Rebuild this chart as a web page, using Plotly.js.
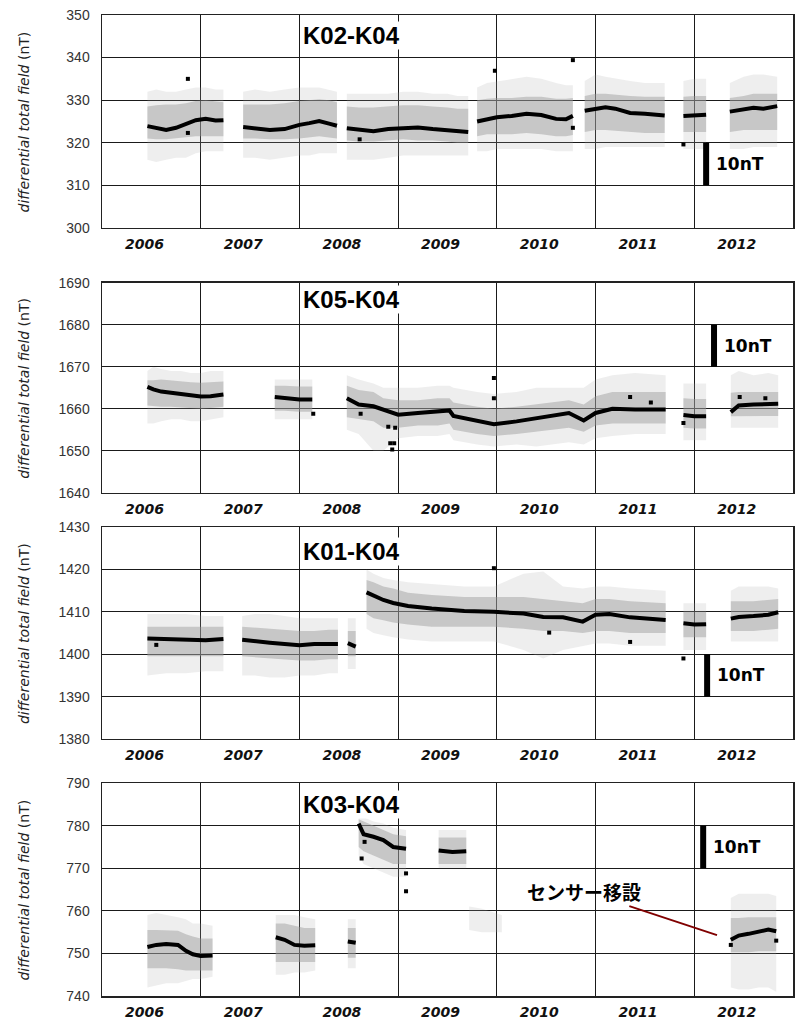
<!DOCTYPE html>
<html>
<head>
<meta charset="utf-8">
<script src="https://cdn.plot.ly/plotly-3.0.1.min.js"></script>
<style>html,body{margin:0;padding:0;background:#fff;}#chart{width:802px;height:1019px;}</style>
</head>
<body>
<div id="chart"></div>
<script>
// ---------- DATA ----------
const yearLabels = ['2006', '2007', '2008', '2009', '2010', '2011', '2012'];
const yearBoundaries = [2007, 2008, 2009, 2010, 2011, 2012];
const xSpan = [2006, 2013];

const panelNames = ['K02-K04', 'K05-K04', 'K01-K04', 'K03-K04'];
const k02Range = [300, 350];
const k05Range = [1640, 1690];
const k01Range = [1380, 1430];
const k03Range = [740, 790];

// scale bar: bottom value of the 10 nT bar and its x position (year)
const scaleBarBase = [310, 1670, 1390, 770];
const scaleBarYear = [2012.12, 2012.20, 2012.13, 2012.09];
const scaleBarLength = 10;
const scaleBarText = '10nT';

// ---- K02-K04 ----
const k02X = [2006.46, 2006.55, 2006.65, 2006.75, 2006.85, 2006.95, 2007.05, 2007.15, 2007.23, null,
  2007.43, 2007.55, 2007.7, 2007.85, 2008.0, 2008.1, 2008.2, 2008.3, 2008.38, null,
  2008.48, 2008.6, 2008.75, 2008.9, 2009.05, 2009.2, 2009.35, 2009.5, 2009.6, 2009.71, null,
  2009.80, 2009.9, 2010.0, 2010.15, 2010.3, 2010.45, 2010.6, 2010.7, 2010.77, null,
  2010.89, 2011.0, 2011.1, 2011.2, 2011.35, 2011.5, 2011.6, 2011.7, null,
  2011.89, 2012.0, 2012.12, null,
  2012.36, 2012.5, 2012.6, 2012.7, 2012.84];
const k02Mean = [323.9, 323.4, 323.0, 323.5, 324.5, 325.3, 325.6, 325.2, 325.3, null,
  323.7, 323.4, 323.0, 323.2, 324.2, 324.6, 325.1, 324.5, 324.0, null,
  323.4, 323.0, 322.7, 323.2, 323.5, 323.6, 323.2, 323.0, 322.8, 322.5, null,
  325.0, 325.6, 326.0, 326.3, 326.8, 326.5, 325.6, 325.5, 326.3, null,
  327.5, 328.0, 328.3, 328.0, 327.0, 326.8, 326.5, 326.4, null,
  326.3, 326.5, 326.6, null,
  327.3, 327.8, 328.2, 328.0, 328.6];
const k02CoreLo = [321.0, 320.8, 320.8, 321.0, 321.2, 321.5, 321.5, 321.5, 321.5, null,
  321.0, 321.0, 320.8, 320.8, 321.0, 321.2, 321.5, 321.2, 321.0, null,
  320.5, 320.3, 320.3, 320.5, 320.8, 320.5, 320.5, 320.3, 320.0, 320.0, null,
  321.5, 322.0, 322.0, 322.0, 322.3, 322.0, 321.5, 321.5, 321.8, null,
  322.5, 323.0, 323.0, 322.8, 322.5, 322.3, 322.3, 322.3, null,
  322.5, 322.5, 322.5, null,
  322.5, 323.0, 323.0, 323.0, 323.0];
const k02CoreHi = [328.5, 328.8, 329.0, 329.0, 329.3, 329.8, 330.0, 329.8, 329.5, null,
  329.0, 329.0, 329.0, 329.3, 329.8, 330.0, 330.2, 330.0, 329.5, null,
  328.5, 328.3, 328.3, 328.5, 328.8, 328.8, 328.5, 328.3, 328.0, 328.0, null,
  330.0, 330.3, 330.5, 330.5, 330.8, 330.8, 330.3, 330.3, 330.5, null,
  331.0, 331.5, 331.5, 331.3, 331.0, 330.8, 330.8, 330.8, null,
  330.8, 331.0, 331.0, null,
  330.5, 331.0, 331.5, 331.5, 331.5];
const k02OuterLo = [316.0, 315.5, 316.0, 316.5, 316.5, 317.5, 318.0, 318.0, 318.0, null,
  316.5, 316.5, 316.0, 316.5, 317.0, 317.0, 317.5, 317.5, 317.5, null,
  316.0, 316.0, 316.0, 316.5, 317.0, 317.0, 317.0, 317.0, 317.0, 317.0, null,
  318.0, 318.0, 318.5, 318.5, 318.5, 318.5, 318.0, 318.0, 318.0, null,
  318.5, 318.5, 319.0, 319.0, 319.0, 319.0, 319.0, 319.0, null,
  318.5, 318.5, 318.5, null,
  318.5, 318.5, 319.0, 319.0, 319.0];
const k02OuterHi = [332.0, 332.5, 332.0, 332.0, 332.5, 333.0, 333.0, 332.5, 332.5, null,
  332.0, 332.5, 332.0, 332.5, 333.0, 333.0, 333.0, 332.5, 332.0, null,
  331.5, 331.5, 331.5, 331.5, 332.0, 332.0, 331.5, 331.5, 331.0, 331.0, null,
  333.0, 334.0, 334.5, 335.0, 335.5, 335.0, 334.0, 333.5, 333.5, null,
  334.5, 336.0, 335.5, 335.0, 334.5, 334.0, 334.0, 334.0, null,
  334.5, 335.0, 335.0, null,
  334.0, 335.5, 336.0, 336.0, 335.5];
const k02OutX = [2006.87, 2006.87, 2008.61, 2009.98, 2010.77, 2010.77, 2011.89];
const k02OutY = [335.0, 322.3, 320.8, 336.9, 339.4, 323.5, 319.6];

// ---- K05-K04 ----
const k05X = [2006.46, 2006.52, 2006.6, 2006.7, 2006.8, 2006.9, 2007.0, 2007.1, 2007.23, null,
  2007.75, 2007.85, 2008.0, 2008.13, null,
  2008.48, 2008.6, 2008.75, 2008.85, 2009.0, 2009.2, 2009.4, 2009.52, 2009.56, 2009.8, 2009.97, 2010.2, 2010.4, 2010.55, 2010.73, 2010.88, 2011.0, 2011.17, 2011.4, 2011.71, null,
  2011.89, 2012.0, 2012.12, null,
  2012.37, 2012.45, 2012.6, 2012.75, 2012.85];
const k05Mean = [1665.2, 1664.6, 1664.1, 1663.8, 1663.4, 1663.0, 1662.9, 1663.0, 1663.4, null,
  1662.8, 1662.6, 1662.2, 1662.2, null,
  1662.5, 1661.0, 1660.6, 1659.8, 1658.6, 1659.0, 1659.4, 1659.6, 1658.3, 1657.0, 1656.3, 1657.0, 1657.7, 1658.2, 1659.0, 1657.2, 1659.0, 1660.0, 1659.8, 1659.8, null,
  1658.5, 1658.2, 1658.2, null,
  1659.2, 1660.8, 1661.0, 1661.0, 1661.2];
const k05CoreLo = [1660.8, 1660.6, 1660.5, 1660.5, 1660.3, 1660.2, 1660.0, 1660.2, 1660.5, null,
  1659.5, 1659.5, 1659.3, 1659.3, null,
  1658.0, 1657.5, 1657.0, 1655.5, 1655.5, 1656.0, 1656.0, 1656.5, 1655.0, 1654.0, 1653.5, 1654.0, 1654.5, 1655.0, 1655.5, 1654.5, 1656.0, 1656.5, 1656.5, 1656.5, null,
  1655.5, 1655.3, 1655.3, null,
  1658.2, 1658.2, 1658.3, 1658.3, 1658.3];
const k05CoreHi = [1666.8, 1666.8, 1667.0, 1666.8, 1666.5, 1666.3, 1666.2, 1666.3, 1666.5, null,
  1665.5, 1665.5, 1665.3, 1665.3, null,
  1665.5, 1664.5, 1664.0, 1662.5, 1662.0, 1662.0, 1662.5, 1662.5, 1661.5, 1660.5, 1660.0, 1660.5, 1661.0, 1661.5, 1662.0, 1661.0, 1663.0, 1664.0, 1664.0, 1664.0, null,
  1662.5, 1662.3, 1662.3, null,
  1663.8, 1664.0, 1664.0, 1664.0, 1664.0];
const k05OuterLo = [1656.5, 1656.5, 1657.0, 1657.5, 1657.5, 1657.0, 1657.0, 1657.5, 1658.0, null,
  1657.5, 1657.5, 1657.5, 1657.5, null,
  1655.0, 1654.0, 1650.0, 1650.0, 1653.0, 1653.5, 1653.5, 1654.0, 1652.5, 1651.5, 1651.0, 1651.5, 1651.0, 1651.5, 1652.0, 1651.5, 1653.0, 1653.5, 1654.0, 1654.0, null,
  1652.5, 1652.5, 1652.5, null,
  1655.5, 1655.5, 1655.5, 1655.5, 1655.5];
const k05OuterHi = [1669.0, 1670.0, 1669.5, 1669.0, 1669.0, 1668.5, 1668.5, 1669.0, 1669.0, null,
  1667.0, 1667.0, 1667.0, 1667.0, null,
  1668.0, 1667.0, 1666.0, 1665.0, 1665.0, 1665.0, 1665.5, 1665.5, 1665.0, 1664.0, 1663.5, 1664.0, 1665.0, 1665.0, 1665.0, 1665.0, 1667.0, 1668.0, 1668.5, 1668.0, null,
  1666.0, 1666.0, 1666.0, null,
  1668.0, 1669.0, 1668.0, 1668.5, 1668.0];
const k05OutX = [2008.14, 2008.62, 2008.90, 2008.92, 2008.94, 2008.96, 2008.97, 2009.97, 2009.97, 2011.35, 2011.56, 2011.89, 2012.46, 2012.72];
const k05OutY = [1658.8, 1658.8, 1655.7, 1651.8, 1650.3, 1651.8, 1655.5, 1667.3, 1662.5, 1662.8, 1661.5, 1656.6, 1662.8, 1662.5];

// ---- K01-K04 ----
const k01X = [2006.46, 2006.65, 2006.85, 2007.05, 2007.23, null,
  2007.42, 2007.55, 2007.7, 2007.85, 2008.0, 2008.15, 2008.3, 2008.39, null,
  2008.49, 2008.57, null,
  2008.68, 2008.75, 2008.85, 2008.95, 2009.1, 2009.34, 2009.67, 2009.97, 2010.27, 2010.47, 2010.67, 2010.87, 2011.0, 2011.14, 2011.35, 2011.71, null,
  2011.89, 2012.0, 2012.12, null,
  2012.37, 2012.45, 2012.6, 2012.75, 2012.85];
const k01Mean = [1403.7, 1403.5, 1403.3, 1403.3, 1403.6, null,
  1403.4, 1403.0, 1402.7, 1402.4, 1402.1, 1402.4, 1402.5, 1402.4, null,
  1402.6, 1401.8, null,
  1414.6, 1413.8, 1412.8, 1412.1, 1411.4, 1410.8, 1410.2, 1410.0, 1409.6, 1408.8, 1408.7, 1407.7, 1409.3, 1409.5, 1408.7, 1408.1, null,
  1407.3, 1407.0, 1407.1, null,
  1408.4, 1408.8, 1409.0, 1409.3, 1409.9];
const k01CoreLo = [1399.5, 1399.5, 1399.5, 1399.5, 1399.5, null,
  1399.5, 1399.3, 1399.0, 1398.8, 1398.5, 1398.5, 1398.8, 1398.8, null,
  1399.5, 1399.5, null,
  1409.5, 1408.5, 1408.0, 1407.5, 1407.0, 1406.5, 1406.5, 1406.5, 1406.0, 1405.5, 1405.5, 1405.0, 1405.5, 1405.5, 1405.0, 1405.0, null,
  1404.0, 1404.0, 1404.0, null,
  1405.5, 1405.5, 1405.5, 1405.8, 1406.0];
const k01CoreHi = [1406.5, 1406.5, 1406.5, 1406.5, 1406.5, null,
  1406.5, 1406.3, 1406.0, 1405.8, 1405.5, 1405.5, 1405.8, 1405.8, null,
  1405.5, 1405.5, null,
  1417.5, 1417.0, 1416.0, 1415.5, 1414.5, 1414.0, 1413.5, 1413.5, 1413.5, 1413.0, 1412.5, 1412.0, 1413.0, 1413.0, 1412.5, 1412.0, null,
  1410.0, 1410.0, 1410.0, null,
  1412.5, 1412.5, 1412.5, 1412.8, 1413.0];
const k01OuterLo = [1395.0, 1395.5, 1395.5, 1396.0, 1396.0, null,
  1395.0, 1395.0, 1394.5, 1394.5, 1395.0, 1395.0, 1395.5, 1395.5, null,
  1396.5, 1396.5, null,
  1406.0, 1405.0, 1404.5, 1404.0, 1403.5, 1403.0, 1403.0, 1403.0, 1401.0, 1399.0, 1401.0, 1402.0, 1402.5, 1402.5, 1402.0, 1402.0, null,
  1401.0, 1401.0, 1401.0, null,
  1403.0, 1403.0, 1403.0, 1403.0, 1403.0];
const k01OuterHi = [1409.5, 1409.5, 1409.5, 1409.0, 1409.0, null,
  1409.0, 1409.5, 1409.5, 1409.0, 1408.5, 1408.5, 1408.5, 1408.5, null,
  1408.5, 1408.5, null,
  1420.0, 1419.0, 1418.0, 1417.5, 1417.0, 1416.5, 1416.0, 1416.0, 1419.0, 1419.5, 1416.0, 1415.5, 1416.0, 1416.0, 1415.5, 1415.0, null,
  1412.0, 1412.0, 1412.0, null,
  1415.0, 1416.0, 1416.0, 1416.0, 1415.5];
const k01OutX = [2006.55, 2009.97, 2010.53, 2011.35, 2011.89];
const k01OutY = [1402.2, 1420.3, 1405.1, 1402.9, 1399.0];

// ---- K03-K04 ----
const k03X = [2006.46, 2006.55, 2006.65, 2006.77, 2006.85, 2006.92, 2007.0, 2007.12, null,
  2007.76, 2007.85, 2007.95, 2008.05, 2008.16, null,
  2008.49, 2008.57, null,
  2008.60, 2008.65, 2008.75, 2008.85, 2008.95, 2009.08, null,
  2009.41, 2009.55, 2009.69, null,
  2009.72, 2009.85, 2010.05, null,
  2012.37, 2012.45, 2012.55, 2012.65, 2012.75, 2012.83];
const k03Mean = [751.5, 752.0, 752.2, 752.0, 750.6, 749.8, 749.4, 749.5, null,
  753.8, 753.2, 752.0, 751.8, 751.9, null,
  752.8, 752.5, null,
  780.5, 778.0, 777.4, 776.6, 775.0, 774.6, null,
  774.2, 773.8, 774.0, null,
  null, null, null, null,
  753.2, 754.2, 754.6, 755.0, 755.6, 755.2];
const k03CoreLo = [746.5, 746.5, 746.5, 746.3, 746.0, 746.0, 746.0, 746.0, null,
  748.0, 748.0, 748.0, 748.0, 748.0, null,
  749.0, 749.0, null,
  775.0, 774.0, 773.0, 772.0, 771.0, 771.0, null,
  771.0, 771.0, 771.0, null,
  null, null, null, null,
  750.3, 750.3, 750.3, 750.5, 750.5, 750.5];
const k03CoreHi = [755.5, 755.5, 755.5, 755.3, 754.5, 754.0, 753.5, 753.5, null,
  757.0, 757.0, 756.5, 756.0, 756.0, null,
  756.0, 756.0, null,
  781.5, 781.0, 780.0, 779.0, 778.0, 777.5, null,
  777.2, 777.2, 777.2, null,
  null, null, null, null,
  758.3, 758.3, 758.5, 758.5, 758.5, 758.5];
const k03OuterLo = [742.0, 742.5, 743.0, 743.0, 743.5, 744.0, 744.0, 744.5, null,
  745.0, 745.0, 745.5, 745.5, 746.0, null,
  746.5, 746.5, null,
  773.0, 771.0, 770.0, 769.0, 768.0, 768.0, null,
  770.0, 770.0, 770.0, null,
  755.5, 755.0, 755.0, null,
  742.0, 741.5, 741.5, 742.0, 742.0, 741.0];
const k03OuterHi = [759.0, 759.5, 759.0, 758.5, 758.0, 757.0, 757.0, 756.5, null,
  759.0, 759.0, 759.0, 758.5, 758.0, null,
  758.0, 758.0, null,
  782.0, 782.0, 781.0, 780.5, 779.5, 779.0, null,
  779.0, 779.0, 779.0, null,
  761.0, 760.5, 759.0, null,
  763.0, 764.0, 764.0, 764.0, 764.0, 763.5];
const k03OutX = [2008.63, 2008.66, 2009.08, 2009.08, 2012.37, 2012.83];
const k03OutY = [772.3, 776.2, 768.8, 764.6, 752.0, 753.0];

const relocationText = 'センサー移設';
const relocationPoint = [2012.23, 754.3];

// ---------- BUILD ----------
const panels = [
  {x: k02X, mean: k02Mean, cLo: k02CoreLo, cHi: k02CoreHi, oLo: k02OuterLo, oHi: k02OuterHi, ox: k02OutX, oy: k02OutY, range: k02Range, dom: [0.783, 1.0], labShift: -20},
  {x: k05X, mean: k05Mean, cLo: k05CoreLo, cHi: k05CoreHi, oLo: k05OuterLo, oHi: k05OuterHi, ox: k05OutX, oy: k05OutY, range: k05Range, dom: [0.513, 0.727], labShift: -17},
  {x: k01X, mean: k01Mean, cLo: k01CoreLo, cHi: k01CoreHi, oLo: k01OuterLo, oHi: k01OuterHi, ox: k01OutX, oy: k01OutY, range: k01Range, dom: [0.262, 0.478], labShift: -24},
  {x: k03X, mean: k03Mean, cLo: k03CoreLo, cHi: k03CoreHi, oLo: k03OuterLo, oHi: k03OuterHi, ox: k03OutX, oy: k03OutY, range: k03Range, dom: [0.0, 0.217], labShift: -21}
];

function bandPolygon(xs, lo, hi) {
  const px = [], py = [];
  let seg = [];
  const flush = () => {
    const s = seg.filter(i => lo[i] != null && hi[i] != null);
    if (s.length) {
      s.forEach(i => { px.push(xs[i]); py.push(lo[i]); });
      s.slice().reverse().forEach(i => { px.push(xs[i]); py.push(hi[i]); });
      px.push(null); py.push(null);
    }
    seg = [];
  };
  xs.forEach((x, i) => { if (x === null) flush(); else seg.push(i); });
  flush();
  return {x: px, y: py};
}

const traces = [];
const layout = {
  width: 802, height: 1019,
  margin: {l: 102, r: 9, t: 15, b: 23},
  paper_bgcolor: '#fff', plot_bgcolor: '#fff',
  showlegend: false,
  annotations: [], shapes: []
};

const gridCol = '#1a1a1a';
panels.forEach((p, k) => {
  const n = k + 1;
  const xa = n === 1 ? 'x' : 'x' + n;
  const ya = n === 1 ? 'y' : 'y' + n;
  const outer = bandPolygon(p.x, p.oLo, p.oHi);
  const core = bandPolygon(p.x, p.cLo, p.cHi);
  traces.push({type: 'scatter', mode: 'lines', x: outer.x, y: outer.y, xaxis: xa, yaxis: ya,
    fill: 'toself', fillcolor: 'rgba(170,170,170,0.2)', line: {width: 0}, hoverinfo: 'skip'});
  traces.push({type: 'scatter', mode: 'lines', x: core.x, y: core.y, xaxis: xa, yaxis: ya,
    fill: 'toself', fillcolor: 'rgba(150,150,150,0.45)', line: {width: 0}, hoverinfo: 'skip'});
  traces.push({type: 'scatter', mode: 'lines', x: p.x, y: p.mean, xaxis: xa, yaxis: ya,
    line: {color: '#000', width: 4}, connectgaps: false});
  traces.push({type: 'scatter', mode: 'markers', x: p.ox, y: p.oy, xaxis: xa, yaxis: ya,
    marker: {symbol: 'square', size: 4, color: '#000'}});

  layout['xaxis' + (n === 1 ? '' : n)] = {
    domain: [0, 1], anchor: ya, range: xSpan,
    tickmode: 'array', tickvals: yearLabels.map(v => +v + 0.43), ticktext: yearLabels,
    showgrid: false, zeroline: false,
    ticks: 'outside', ticklen: 3, tickcolor: 'rgba(0,0,0,0)',
    tickfont: {family: 'DejaVu Sans', size: 14, weight: 'bold', style: 'italic', color: '#111'},
    minor: {tickmode: 'array', tickvals: yearBoundaries, showgrid: true, gridcolor: gridCol, gridwidth: 1, ticks: ''},
    showline: true, mirror: true, linecolor: '#222', linewidth: 1.5
  };
  layout['yaxis' + (n === 1 ? '' : n)] = {
    domain: p.dom, anchor: xa, range: p.range,
    tick0: p.range[0], dtick: 10, tickmode: 'linear',
    showgrid: true, gridcolor: gridCol, gridwidth: 1, zeroline: false,
    ticks: 'outside', ticklen: 8, tickcolor: 'rgba(0,0,0,0)',
    tickfont: {family: 'Liberation Sans', size: 14, color: '#333'},
    showline: true, mirror: true, linecolor: '#222', linewidth: 1.5
  };

  // y title
  layout.annotations.push({
    xref: 'paper', yref: 'paper', x: -0.1129, y: (p.dom[0] + p.dom[1]) / 2,
    xanchor: 'center', yanchor: 'middle', textangle: -90, showarrow: false,
    text: '<i>differential total field</i> (nT)',
    font: {family: 'DejaVu Sans', size: 14, color: '#222'}
  });
  // panel label
  layout.annotations.push({
    xref: xa + ' domain', yref: ya + ' domain', x: 0.289, y: 1, yshift: p.labShift,
    xanchor: 'left', yanchor: 'middle', showarrow: false, text: panelNames[k],
    bgcolor: '#fff', borderpad: 0,
    font: {family: 'Liberation Sans', size: 24, weight: 'bold', color: '#000'}
  });
  // scale bar
  layout.shapes.push({
    type: 'line', xref: xa, yref: ya,
    x0: scaleBarYear[k], x1: scaleBarYear[k], y0: scaleBarBase[k], y1: scaleBarBase[k] + scaleBarLength,
    line: {color: '#000', width: 6}
  });
  layout.annotations.push({
    xref: xa, yref: ya, x: scaleBarYear[k], y: scaleBarBase[k] + scaleBarLength / 2,
    xanchor: 'left', yanchor: 'middle', xshift: 8, showarrow: false, text: scaleBarText,
    font: {family: 'DejaVu Sans', size: 17, weight: 'bold', color: '#000'}
  });
});

// relocation note on the last panel
layout.annotations.push({
  xref: 'x4', yref: 'y4', x: relocationPoint[0], y: relocationPoint[1],
  ax: -133, ay: -44, showarrow: true, arrowhead: 0, arrowwidth: 2, arrowcolor: '#800000',
  text: '<b>' + relocationText + '</b>',
  font: {family: 'Noto Sans CJK JP', size: 19, color: '#000'}
});

Plotly.newPlot('chart', traces, layout, {staticPlot: true, displayModeBar: false});
</script>
</body>
</html>
